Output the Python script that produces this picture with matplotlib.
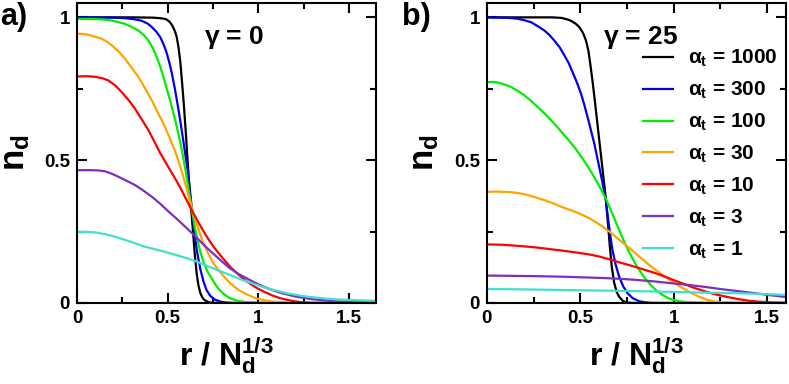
import matplotlib
matplotlib.use("Agg")
import matplotlib.pyplot as plt
from matplotlib.ticker import MultipleLocator

plt.rcParams['font.family'] = ['Liberation Sans', 'DejaVu Sans']
plt.rcParams['font.weight'] = 'bold'
plt.rcParams['mathtext.fontset'] = 'custom'
plt.rcParams['mathtext.rm'] = 'Liberation Sans:bold'
plt.rcParams['mathtext.bf'] = 'Liberation Sans:bold'
plt.rcParams['mathtext.it'] = 'Liberation Sans'

alphas = [1000, 300, 100, 30, 10, 3, 1]
colors = ['black', '#0000ee', '#00ee00', '#ffa500', '#ff0000', '#7b2fc0', '#40e0d0']

# panel a, gamma = 0
xa_1000 = [0, 0.3, 0.42, 0.46, 0.49, 0.51, 0.525, 0.54, 0.55, 0.56, 0.57, 0.58, 0.59, 0.6, 0.61, 0.62,
           0.63, 0.64, 0.65, 0.66, 0.67, 0.68, 0.69, 0.7, 0.715, 0.73, 0.75, 0.8, 1.65]
ya_1000 = [1, 1, 0.999, 0.997, 0.994, 0.985, 0.972, 0.952, 0.932, 0.895, 0.845, 0.77, 0.69, 0.6, 0.5, 0.41,
           0.33, 0.25, 0.17, 0.105, 0.062, 0.036, 0.021, 0.012, 0.006, 0.002, 0.0005, 0, 0]
xa_300 = [0, 0.2, 0.265, 0.31, 0.357, 0.39, 0.413, 0.44, 0.46, 0.48, 0.495, 0.51, 0.523, 0.54, 0.551,
          0.563, 0.575, 0.586, 0.597, 0.61, 0.62, 0.633, 0.645, 0.661, 0.68, 0.698, 0.715, 0.735, 0.76,
          0.79, 0.82, 0.86, 1.65]
ya_300 = [1, 0.999, 0.997, 0.994, 0.988, 0.978, 0.966, 0.948, 0.93, 0.902, 0.875, 0.84, 0.805, 0.75, 0.71,
          0.665, 0.616, 0.57, 0.523, 0.465, 0.41, 0.335, 0.265, 0.185, 0.12, 0.075, 0.045, 0.025, 0.012,
          0.005, 0.0015, 0, 0]
xa_100 = [0, 0.1, 0.173, 0.22, 0.265, 0.3, 0.339, 0.37, 0.394, 0.42, 0.44, 0.46, 0.477, 0.495, 0.514,
          0.533, 0.551, 0.567, 0.582, 0.6, 0.615, 0.633, 0.65, 0.665, 0.68, 0.7, 0.72, 0.753, 0.78, 0.808,
          0.84, 0.882, 0.93, 0.974, 1.05, 1.65]
ya_100 = [0.995, 0.994, 0.991, 0.985, 0.977, 0.967, 0.954, 0.937, 0.919, 0.89, 0.861, 0.826, 0.791, 0.75,
          0.709, 0.662, 0.616, 0.57, 0.523, 0.46, 0.4, 0.33, 0.265, 0.22, 0.18, 0.14, 0.11, 0.075, 0.05,
          0.032, 0.018, 0.008, 0.003, 0.001, 0, 0]
xa_30 = [0, 0.03, 0.063, 0.1, 0.136, 0.165, 0.192, 0.23, 0.265, 0.3, 0.339, 0.375, 0.413, 0.445, 0.477,
         0.51, 0.541, 0.569, 0.6, 0.633, 0.66, 0.69, 0.72, 0.753, 0.8, 0.845, 0.89, 0.937, 0.98, 1.03,
         1.08, 1.12, 1.2, 1.65]
ya_30 = [0.943, 0.942, 0.939, 0.932, 0.925, 0.915, 0.902, 0.88, 0.855, 0.825, 0.791, 0.752, 0.709, 0.668,
         0.628, 0.58, 0.532, 0.48, 0.412, 0.335, 0.276, 0.222, 0.178, 0.139, 0.1, 0.069, 0.046, 0.03,
         0.018, 0.01, 0.005, 0.002, 0, 0]
xa_10 = [0, 0.05, 0.1, 0.14, 0.173, 0.21, 0.247, 0.285, 0.32, 0.357, 0.394, 0.425, 0.46, 0.5, 0.535,
         0.569, 0.6, 0.633, 0.67, 0.71, 0.753, 0.8, 0.845, 0.89, 0.937, 0.985, 1.03, 1.075, 1.12, 1.165,
         1.21, 1.25, 1.3, 1.65]
ya_10 = [0.793, 0.794, 0.792, 0.787, 0.779, 0.762, 0.738, 0.71, 0.68, 0.643, 0.605, 0.567, 0.524, 0.48,
         0.443, 0.405, 0.366, 0.325, 0.282, 0.238, 0.197, 0.16, 0.127, 0.1, 0.075, 0.055, 0.04, 0.027,
         0.017, 0.01, 0.005, 0.002, 0, 0]
xa_3 = [0, 0.08, 0.12, 0.155, 0.19, 0.228, 0.27, 0.32, 0.365, 0.413, 0.46, 0.505, 0.55, 0.597, 0.63,
        0.661, 0.705, 0.753, 0.8, 0.845, 0.89, 0.937, 0.985, 1.03, 1.075, 1.12, 1.165, 1.21, 1.26, 1.3,
        1.35, 1.4, 1.45, 1.49, 1.57, 1.65]
ya_3 = [0.465, 0.465, 0.464, 0.461, 0.453, 0.442, 0.429, 0.413, 0.394, 0.372, 0.347, 0.32, 0.295, 0.267,
        0.247, 0.228, 0.2, 0.172, 0.145, 0.121, 0.102, 0.086, 0.07, 0.057, 0.046, 0.036, 0.029, 0.022,
        0.017, 0.013, 0.01, 0.007, 0.005, 0.004, 0.002, 0.001]
xa_1 = [0, 0.05, 0.1, 0.155, 0.21, 0.265, 0.32, 0.375, 0.431, 0.486, 0.541, 0.6, 0.661, 0.705, 0.753,
        0.8, 0.845, 0.89, 0.937, 0.985, 1.03, 1.075, 1.12, 1.165, 1.21, 1.26, 1.3, 1.35, 1.4, 1.45, 1.49,
        1.57, 1.65]
ya_1 = [0.249, 0.249, 0.247, 0.241, 0.232, 0.221, 0.209, 0.197, 0.188, 0.179, 0.169, 0.158, 0.145, 0.133,
        0.121, 0.109, 0.098, 0.086, 0.075, 0.065, 0.055, 0.047, 0.04, 0.033, 0.028, 0.023, 0.02, 0.017,
        0.014, 0.012, 0.011, 0.009, 0.008]

# panel b, gamma = 25
xb_1000 = [0, 0.35, 0.4, 0.43, 0.45, 0.475, 0.495, 0.515, 0.53, 0.543, 0.553, 0.565, 0.575, 0.588, 0.6,
           0.612, 0.624, 0.636, 0.648, 0.658, 0.668, 0.681, 0.695, 0.708, 0.725, 0.744, 0.78, 1.6]
yb_1000 = [1, 1, 0.998, 0.993, 0.988, 0.978, 0.966, 0.945, 0.92, 0.885, 0.84, 0.78, 0.725, 0.65, 0.58,
           0.51, 0.44, 0.37, 0.28, 0.2, 0.13, 0.072, 0.038, 0.022, 0.009, 0.002, 0, 0]
xb_300 = [0, 0.08, 0.12, 0.166, 0.2, 0.237, 0.27, 0.308, 0.335, 0.361, 0.39, 0.415, 0.438, 0.459, 0.482,
          0.504, 0.522, 0.539, 0.557, 0.575, 0.592, 0.61, 0.625, 0.637, 0.646, 0.659, 0.672, 0.69, 0.708,
          0.73, 0.752, 0.78, 0.815, 0.85, 0.886, 1.6]
yb_300 = [1, 0.999, 0.998, 0.995, 0.99, 0.983, 0.97, 0.954, 0.938, 0.919, 0.895, 0.867, 0.84, 0.808,
          0.772, 0.733, 0.693, 0.651, 0.605, 0.558, 0.505, 0.45, 0.4, 0.36, 0.31, 0.245, 0.185, 0.133,
          0.092, 0.058, 0.035, 0.017, 0.006, 0.002, 0, 0]
xb_100 = [0, 0.03, 0.059, 0.095, 0.13, 0.165, 0.201, 0.236, 0.272, 0.308, 0.344, 0.38, 0.415, 0.44, 0.468,
          0.495, 0.521, 0.548, 0.575, 0.605, 0.637, 0.67, 0.7, 0.726, 0.76, 0.79, 0.815, 0.85, 0.88, 0.904,
          0.94, 0.97, 0.992, 1.03, 1.08, 1.15, 1.6]
yb_100 = [0.773, 0.774, 0.772, 0.765, 0.756, 0.743, 0.727, 0.708, 0.686, 0.664, 0.64, 0.614, 0.587, 0.568,
          0.546, 0.522, 0.497, 0.47, 0.44, 0.405, 0.365, 0.315, 0.268, 0.228, 0.18, 0.143, 0.116, 0.083,
          0.061, 0.046, 0.028, 0.017, 0.012, 0.006, 0.002, 0, 0]
xb_30 = [0, 0.05, 0.1, 0.13, 0.175, 0.219, 0.265, 0.308, 0.355, 0.397, 0.44, 0.486, 0.548, 0.605, 0.66,
         0.726, 0.77, 0.815, 0.86, 0.904, 0.95, 0.992, 1.035, 1.08, 1.125, 1.17, 1.21, 1.26, 1.32, 1.6]
yb_30 = [0.389, 0.39, 0.389, 0.388, 0.384, 0.378, 0.369, 0.36, 0.349, 0.337, 0.327, 0.316, 0.297, 0.274,
         0.248, 0.212, 0.188, 0.163, 0.138, 0.115, 0.094, 0.075, 0.057, 0.04, 0.025, 0.013, 0.006, 0.002,
         0, 0]
xb_10 = [0, 0.08, 0.166, 0.255, 0.344, 0.42, 0.486, 0.548, 0.6, 0.65, 0.69, 0.726, 0.77, 0.815, 0.86,
         0.904, 0.95, 1.0, 1.046, 1.1, 1.17, 1.23, 1.295, 1.35, 1.4, 1.45, 1.508, 1.55, 1.6]
yb_10 = [0.205, 0.204, 0.2, 0.195, 0.188, 0.182, 0.176, 0.17, 0.163, 0.154, 0.146, 0.139, 0.131, 0.122,
         0.113, 0.104, 0.093, 0.08, 0.069, 0.055, 0.04, 0.029, 0.02, 0.013, 0.008, 0.005, 0.002, 0.001, 0]
xb_3 = [0, 0.13, 0.255, 0.4, 0.548, 0.64, 0.726, 0.815, 0.904, 0.99, 1.08, 1.17, 1.26, 1.35, 1.437,
        1.52, 1.6]
yb_3 = [0.096, 0.095, 0.094, 0.092, 0.089, 0.087, 0.084, 0.08, 0.075, 0.069, 0.063, 0.056, 0.048, 0.041,
        0.034, 0.027, 0.021]
xb_1 = [0, 0.255, 0.548, 0.75, 0.904, 1.05, 1.17, 1.26, 1.348, 1.45, 1.53, 1.6]
yb_1 = [0.049, 0.047, 0.044, 0.042, 0.04, 0.038, 0.036, 0.035, 0.034, 0.032, 0.03, 0.028]

curves_a = [(xa_1000, ya_1000), (xa_300, ya_300), (xa_100, ya_100), (xa_30, ya_30),
            (xa_10, ya_10), (xa_3, ya_3), (xa_1, ya_1)]
curves_b = [(xb_1000, yb_1000), (xb_300, yb_300), (xb_100, yb_100), (xb_30, yb_30),
            (xb_10, yb_10), (xb_3, yb_3), (xb_1, yb_1)]

fig = plt.figure(figsize=(7.89, 3.84), dpi=100)
ax1 = fig.add_axes([0.0976, 0.211, 0.379, 0.781])
ax2 = fig.add_axes([0.617, 0.211, 0.379, 0.781])

for ax, curves, xmax in [(ax1, curves_a, 1.65), (ax2, curves_b, 1.6)]:
    for (x, y), c, a in zip(curves, colors, alphas):
        ax.plot(x, y, color=c, lw=1.6, label=r'$\alpha_{\mathrm{t}}$ = %d' % a)
    ax.set_xlim(0, xmax)
    ax.set_ylim(0, 1.05)
    ax.xaxis.set_minor_locator(MultipleLocator(0.25))
    ax.yaxis.set_minor_locator(MultipleLocator(0.25))
    ax.set_xticks([0, 0.5, 1, 1.5])
    ax.set_xticklabels(['0', '0.5', '1', '1.5'])
    ax.set_yticks([0, 0.5, 1])
    ax.set_yticklabels(['0', '0.5', '1'])
    ax.tick_params(which='both', direction='in', top=True, right=True, width=1.5, labelsize=13.5, pad=5)
    ax.tick_params(which='major', length=7)
    ax.tick_params(which='minor', length=4)
    for s in ax.spines.values():
        s.set_linewidth(1.5)
    ax.set_xlabel(r'r / N$_{\mathrm{d}}^{\mathrm{1/3}}$', fontsize=23, fontweight='bold', labelpad=6)
    ax.set_ylabel(r'n$_{\mathrm{d}}$', fontsize=25, fontweight='bold', labelpad=9)

ax1.text(0.70, 0.93, r'$\gamma$ = 0', fontsize=19, fontweight='bold', va='center')
ax2.text(0.62, 0.93, r'$\gamma$ = 25', fontsize=19, fontweight='bold', va='center')
fig.text(0.0, 0.955, 'a)', fontsize=22, fontweight='bold', va='center')
fig.text(0.51, 0.955, 'b)', fontsize=22, fontweight='bold', va='center')

ax2.legend(loc='upper right', bbox_to_anchor=(1.0, 0.878), frameon=False, fontsize=15,
           handlelength=1.44, handletextpad=0.72, labelspacing=0.51, borderaxespad=0.0)

fig.savefig('out.png', dpi=100)
